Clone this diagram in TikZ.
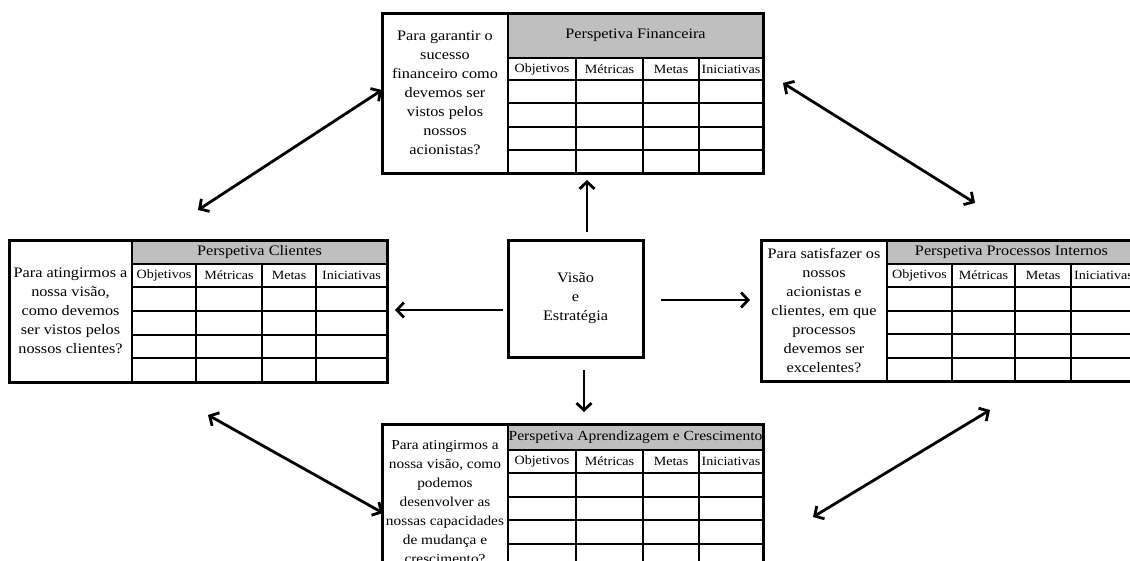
\documentclass[tikz,border=0pt]{standalone}
\usepackage{fontspec}
\setmainfont{Liberation Serif}[FakeStretch=1.12]
\usetikzlibrary{arrows.meta}
\definecolor{headgray}{RGB}{191,191,191}

\tikzset{
  frame/.style={draw=black, line width=3pt, inner sep=0pt, outer sep=0pt},
  gridline/.style={draw=black, line width=2pt},
  qtext/.style={align=center, inner sep=0pt, font=\fontsize{14.5}{19}\selectfont},
  htext/.style={inner sep=0pt, font=\fontsize{14.5}{19}\selectfont},
  ctext/.style={inner sep=0pt, font=\fontsize{12.6}{14}\selectfont},
  link/.style={line width=2.8pt, >={Straight Barb[length=7pt,width=15pt]}},
}

% x list: left / divider / column 1 / column 2 / column 3 / right
\def\SetX#1/#2/#3/#4/#5/#6\relax{\def\XL{#1}\def\XD{#2}\def\CA{#3}\def\CB{#4}\def\CC{#5}\def\XR{#6}}
% y list: top / header bottom / column-title bottom / bottom / question centre
\def\SetY#1/#2/#3/#4/#5\relax{\def\YT{#1}\def\YH{#2}\def\YC{#3}\def\YB{#4}\def\YQ{#5}}

% one perspective: question cell on the left, scorecard table on the right
% [#1] extra style for the question text
\newcommand\Perspective[6][]{%
  \SetX#3\relax\SetY#4\relax
  \fill[headgray] (\XD,\YT) rectangle (\XR,\YH);
  \node[htext] (#2-head) at ({(\XD+\XR)/2},{(\YT+\YH)/2}) {#5};
  \node[ctext] (#2-c1) at ({(\XD+\CA)/2},{(\YH+\YC)/2}) {Objetivos};
  \node[ctext] (#2-c2) at ({(\CA+\CB)/2},{(\YH+\YC)/2}) {Métricas};
  \node[ctext] (#2-c3) at ({(\CB+\CC)/2},{(\YH+\YC)/2}) {Metas};
  \node[ctext] (#2-c4) at ({(\CC+\XR)/2},{(\YH+\YC)/2}) {Iniciativas};
  \foreach \k in {1,2,3}{%
    \draw[gridline] (\XD,{\YC+\k*(\YB-\YC)/4}) -- (\XR,{\YC+\k*(\YB-\YC)/4});
  }
  \draw[gridline] (\XD,\YH) -- (\XR,\YH) (\XD,\YC) -- (\XR,\YC)
    (\XD,\YT) -- (\XD,\YB) (\CA,\YH) -- (\CA,\YB)
    (\CB,\YH) -- (\CB,\YB) (\CC,\YH) -- (\CC,\YB);
  \node[qtext, #1] (#2-q) at ({(\XL+\XD)/2},\YQ) {#6};
  \node[frame, minimum width={(\XR-\XL)*1pt}, minimum height={(\YB-\YT)*1pt}]
    (#2) at ({(\XL+\XR)/2},{(\YT+\YB)/2}) {};
}

\begin{document}
\begin{tikzpicture}[x=1pt, y=-1pt]
  \useasboundingbox (0,0) rectangle (1130,560);
  \clip (0,0) rectangle (1130,560);
  \fill[white] (0,0) rectangle (1130,560);

  \Perspective{fin}{382/508/576/643/699/763}{13/58/80/173/93}
    {Perspetiva Financeira}
    {Para garantir o\\sucesso\\financeiro como\\devemos ser\\vistos pelos\\nossos\\acionistas?}

  \Perspective{cli}{9/132/196/262/316/387}{240/264/287/382/311}
    {Perspetiva Clientes}
    {Para atingirmos a\\nossa visão,\\como devemos\\ser vistos pelos\\nossos clientes?}

  \Perspective{pro}{761/887/952/1015/1071/1136}{240/264/287/381/310.5}
    {Perspetiva Processos Internos}
    {Para satisfazer os\\nossos\\acionistas e\\clientes, em que\\processos\\devemos ser\\excelentes?}

  \Perspective[font=\fontsize{13.7}{19}\selectfont]{apr}{382/508/576/643/699/763}{424/450/473/567/502}
    {{\fontsize{13.9}{16}\selectfont Perspetiva Aprendizagem e Crescimento}}
    {Para atingirmos a\\nossa visão, como\\podemos\\desenvolver as\\nossas capacidades\\de mudança e\\crescimento?}

  % vision and strategy in the middle
  \node[frame, minimum width=135pt, minimum height=117pt, align=center,
        font=\fontsize{14.5}{19}\selectfont] (vis) at (575.5,298.5)
        {Visão\\e\\Estratégia};

  % from the centre out to each perspective
  \draw[link, ->] ([xshift=11.5pt, yshift=8pt]vis.north) -- ([xshift=14.5pt, yshift=-7pt]fin.south);
  \draw[link, ->] ([xshift=-5pt, yshift=-11.5pt]vis.west) -- ([xshift=8pt, yshift=1pt]cli.east);
  \draw[link, ->] ([xshift=18pt, yshift=-1.5pt]vis.east) -- ([xshift=-11pt, yshift=10.5pt]pro.west);
  \draw[link, ->] ([xshift=8.5pt, yshift=-13pt]vis.south) -- ([xshift=11.5pt, yshift=12pt]apr.north);

  % links between neighbouring perspectives
  \draw[link, <->] ([yshift=30pt]cli.north) -- ([yshift=3pt]fin.west);
  \draw[link, <->] ([xshift=20pt, yshift=10pt]fin.east) -- ([xshift=26.5pt, yshift=37pt]pro.north);
  \draw[link, <->] ([xshift=10pt, yshift=-33pt]cli.south) -- ([xshift=1pt, yshift=-17.5pt]apr.west);
  \draw[link, <->] ([xshift=41.5pt, yshift=-29pt]pro.south) -- ([xshift=50pt, yshift=-21.5pt]apr.east);
\end{tikzpicture}
\end{document}
